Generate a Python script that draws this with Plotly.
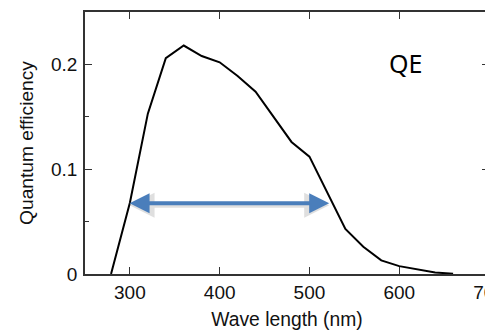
import plotly.graph_objects as go

wavelength = [279, 300, 320, 340, 360, 380, 400, 420, 440, 460, 480, 500, 520, 540, 560, 580, 600, 620, 640, 660]
qe = [0.0, 0.068, 0.153, 0.206, 0.218, 0.208, 0.202, 0.189, 0.174, 0.150, 0.126, 0.112, 0.078, 0.043, 0.026, 0.013, 0.0075, 0.0045, 0.0015, 0.0002]

x_ticks = [300, 400, 500, 600, 700]
y_ticks = [0, 0.1, 0.2]
arrow_range = [298, 522]
arrow_level = 0.0675
label_pos = (607, 0.201)

fig = go.Figure()
fig.add_trace(go.Scatter(x=wavelength, y=qe, mode="lines",
                         line=dict(color="black", width=2), showlegend=False,
                         hoverinfo="skip"))

# soft shadow under the arrow
fig.add_annotation(x=arrow_range[1], y=arrow_level, ax=arrow_range[0], ay=arrow_level,
                   xref="x", yref="y", axref="x", ayref="y", text="",
                   showarrow=True, arrowside="end+start", arrowhead=2, startarrowhead=2,
                   arrowsize=1, startarrowsize=1, arrowwidth=5, arrowcolor="rgba(0,0,0,0.12)",
                   standoff=0, startstandoff=0, yshift=-2)
fig.add_annotation(x=arrow_range[1], y=arrow_level, ax=arrow_range[0], ay=arrow_level,
                   xref="x", yref="y", axref="x", ayref="y", text="",
                   showarrow=True, arrowside="end+start", arrowhead=2, startarrowhead=2,
                   arrowsize=1, startarrowsize=1, arrowwidth=4, arrowcolor="#4A7EBB",
                   standoff=0, startstandoff=0)

fig.add_annotation(x=label_pos[0], y=label_pos[1], xref="x", yref="y", text="QE", showarrow=False,
                   font=dict(family="Noto Sans", size=25, color="black"),
                   xanchor="center", yanchor="middle")

tick_font = dict(family="Liberation Sans, Arial", size=19, color="#111")
xtitle_font = dict(family="Liberation Sans, Arial", size=19.3, color="#111")
ytitle_font = dict(family="Liberation Sans, Arial", size=19.2, color="#111")

# page body has an 8px margin, so the figure starts at (8, 8)
fig.update_layout(
    width=485, height=322,
    margin=dict(l=77, r=4, t=4, b=56, autoexpand=False),
    paper_bgcolor="white", plot_bgcolor="white",
    font=tick_font,
    xaxis=dict(range=[250, 700], tickvals=x_ticks, ticktext=[str(v) for v in x_ticks],
               ticks="inside", ticklen=7, tickwidth=1.3, tickcolor="#333",
               showline=True, linecolor="#333", linewidth=1.5, mirror="ticks",
               showgrid=False, zeroline=False, ticklabeloverflow="allow",
               title=dict(text="Wave length (nm)", font=xtitle_font, standoff=11),
               tickfont=tick_font),
    yaxis=dict(range=[0, 0.25], tickvals=y_ticks, ticktext=["0", "0.1", "0.2"],
               ticks="inside", ticklen=7, tickwidth=1.3, tickcolor="#333",
               minor=dict(tickvals=[0.05, 0.15], ticks="inside", ticklen=4, tickcolor="#333", tickwidth=1.3),
               showline=True, linecolor="#333", linewidth=1.5, mirror="ticks",
               showgrid=False, zeroline=False, ticklabelstandoff=2,
               title=dict(text="Quantum efficiency", font=ytitle_font, standoff=12),
               tickfont=tick_font),
)

fig.write_html("out.html")
